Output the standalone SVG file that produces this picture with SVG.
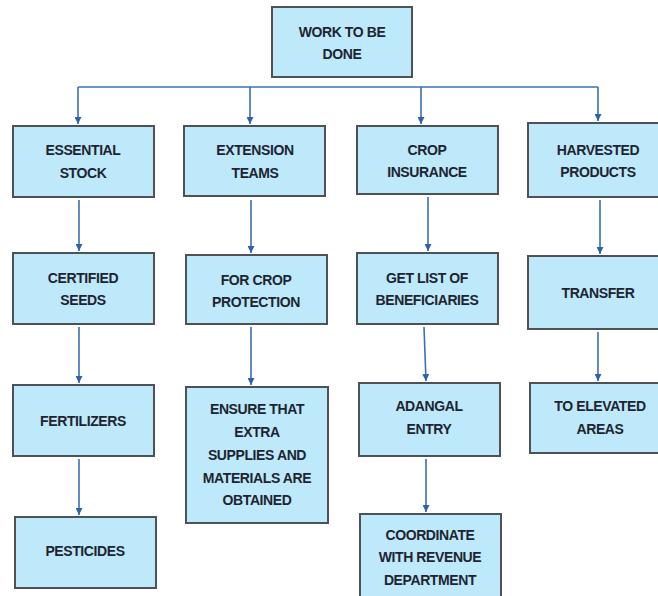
<svg xmlns="http://www.w3.org/2000/svg" width="658" height="596" viewBox="0 0 658 596">
<defs>
<style>
.box{fill:#bde9fa;stroke:#4d5257;stroke-width:2}
.t{font-family:"Liberation Sans",Arial,sans-serif;font-weight:bold;font-size:14px;fill:#1d2430;text-anchor:middle;letter-spacing:-0.4px}
.c{fill:none;stroke:#3c6fb4;stroke-width:1.6}
</style>
<marker id="ah" viewBox="0 0 10 10" refX="10" refY="5" markerWidth="7" markerHeight="7" markerUnits="userSpaceOnUse" orient="auto">
<path d="M0,0 L10,5 L0,10 z" fill="#2f62aa"/>
</marker>
</defs>
<rect width="658" height="596" fill="#ffffff"/>
<g id="connectors">
<path class="c" d="M78,87 H598"/>
<path class="c" d="M78,87 V124" marker-end="url(#ah)"/>
<path class="c" d="M250,87 V124" marker-end="url(#ah)"/>
<path class="c" d="M421,87 V124" marker-end="url(#ah)"/>
<path class="c" d="M598,87 V121" marker-end="url(#ah)"/>
<path class="c" d="M79,200 V251" marker-end="url(#ah)"/>
<path class="c" d="M251,200 V253" marker-end="url(#ah)"/>
<path class="c" d="M428,197 V251" marker-end="url(#ah)"/>
<path class="c" d="M600,200 V254" marker-end="url(#ah)"/>
<path class="c" d="M79,327 V383" marker-end="url(#ah)"/>
<path class="c" d="M251,327 V385" marker-end="url(#ah)"/>
<path class="c" d="M424,327 L426,381" marker-end="url(#ah)"/>
<path class="c" d="M598,332 V381" marker-end="url(#ah)"/>
<path class="c" d="M79,459 V515" marker-end="url(#ah)"/>
<path class="c" d="M426,459 V512" marker-end="url(#ah)"/>
</g>
<g id="work"><rect class="box" x="272" y="7" width="140" height="70"/><text class="t" x="342" y="37">WORK TO BE</text><text class="t" x="342" y="59">DONE</text></g>
<g id="essential"><rect class="box" x="13" y="126" width="141" height="71"/><text class="t" x="83" y="155">ESSENTIAL</text><text class="t" x="83" y="178">STOCK</text></g>
<g id="extension"><rect class="box" x="184" y="126" width="141" height="70"/><text class="t" x="255" y="155">EXTENSION</text><text class="t" x="255" y="178">TEAMS</text></g>
<g id="crop"><rect class="box" x="357" y="126" width="141" height="68"/><text class="t" x="427" y="155">CROP</text><text class="t" x="427" y="177">INSURANCE</text></g>
<g id="harvested"><rect class="box" x="528" y="123" width="140" height="74"/><text class="t" x="598" y="155">HARVESTED</text><text class="t" x="598" y="177">PRODUCTS</text></g>
<g id="seeds"><rect class="box" x="13" y="253" width="141" height="71"/><text class="t" x="83" y="283">CERTIFIED</text><text class="t" x="83" y="305">SEEDS</text></g>
<g id="protection"><rect class="box" x="186" y="255" width="141" height="69"/><text class="t" x="256" y="285">FOR CROP</text><text class="t" x="256" y="307">PROTECTION</text></g>
<g id="beneficiaries"><rect class="box" x="357" y="253" width="141" height="71"/><text class="t" x="427" y="283">GET LIST OF</text><text class="t" x="427" y="305">BENEFICIARIES</text></g>
<g id="transfer"><rect class="box" x="528" y="256" width="140" height="73"/><text class="t" x="598" y="298">TRANSFER</text></g>
<g id="fertilizers"><rect class="box" x="13" y="385" width="141" height="71"/><text class="t" x="83" y="426">FERTILIZERS</text></g>
<g id="ensure"><rect class="box" x="186" y="387" width="142" height="136"/><text class="t" x="257" y="414">ENSURE THAT</text><text class="t" x="257" y="437">EXTRA</text><text class="t" x="257" y="460">SUPPLIES AND</text><text class="t" x="257" y="483">MATERIALS ARE</text><text class="t" x="257" y="505">OBTAINED</text></g>
<g id="adangal"><rect class="box" x="359" y="383" width="141" height="73"/><text class="t" x="429" y="411">ADANGAL</text><text class="t" x="429" y="434">ENTRY</text></g>
<g id="elevated"><rect class="box" x="530" y="383" width="138" height="70"/><text class="t" x="600" y="411">TO ELEVATED</text><text class="t" x="600" y="434">AREAS</text></g>
<g id="pesticides"><rect class="box" x="15" y="517" width="141" height="71"/><text class="t" x="85" y="556">PESTICIDES</text></g>
<g id="coordinate"><rect class="box" x="360" y="514" width="141" height="90"/><text class="t" x="430" y="540">COORDINATE</text><text class="t" x="430" y="562">WITH REVENUE</text><text class="t" x="430" y="585">DEPARTMENT</text></g>
</svg>
